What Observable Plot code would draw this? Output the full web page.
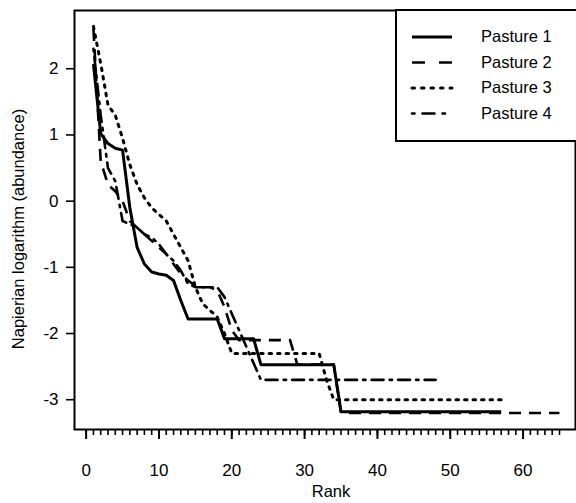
<!DOCTYPE html>
<html>
<head>
<meta charset="utf-8">
<script src="https://cdn.jsdelivr.net/npm/d3@7"></script>
<script src="https://cdn.jsdelivr.net/npm/@observablehq/plot@0.6"></script>
<style>
  html, body { margin: 0; padding: 0; background: #fff; }
  svg { font-family: "Liberation Sans", Arial, sans-serif; }
</style>
</head>
<body>
<div id="chart"></div>
<script>
// Series values (ln abundance) by rank 1..n
const seriesNames = ["Pasture 1", "Pasture 2", "Pasture 3", "Pasture 4"];
const pasture1 = [2.07, 1.02, 0.87, 0.80, 0.77, -0.10, -0.70, -0.95, -1.07, -1.10, -1.12, -1.20, -1.50, -1.78,
  -1.78, -1.78, -1.78, -1.78, -2.08, -2.08, -2.08, -2.08, -2.08,
  -2.47, -2.47, -2.47, -2.47, -2.47, -2.47, -2.47, -2.47, -2.47, -2.47, -2.47,
  -3.18, -3.18, -3.18, -3.18, -3.18, -3.18, -3.18, -3.18, -3.18, -3.18, -3.18, -3.18, -3.18, -3.18, -3.18, -3.18,
  -3.18, -3.18, -3.18, -3.18, -3.18, -3.18, -3.18];
const pasture2 = [2.60, 0.60, 0.25, 0.15, 0.00, -0.30, -0.40, -0.50, -0.60, -0.70, -0.80, -0.95, -1.10, -1.20,
  -1.28, -1.30, -1.30, -1.35, -1.60, -1.95, -2.10, -2.10, -2.10, -2.10, -2.10, -2.10, -2.10, -2.10,
  -2.47, -2.47, -2.47, -2.47, -2.47, -2.47,
  -3.20, -3.20, -3.20, -3.20, -3.20, -3.20, -3.20, -3.20, -3.20, -3.20, -3.20, -3.20, -3.20, -3.20, -3.20, -3.20,
  -3.20, -3.20, -3.20, -3.20, -3.20, -3.20, -3.20, -3.20, -3.20, -3.20, -3.20, -3.20, -3.20, -3.20, -3.20];
const pasture3 = [2.64, 2.08, 1.45, 1.30, 0.95, 0.55, 0.25, 0.05, -0.10, -0.20, -0.30, -0.50, -0.70, -0.90,
  -1.30, -1.55, -1.65, -1.75, -2.00, -2.30, -2.30, -2.30, -2.30, -2.30, -2.30, -2.30, -2.30, -2.30, -2.30,
  -2.30, -2.30, -2.30, -2.70, -3.00, -3.00, -3.00, -3.00, -3.00, -3.00, -3.00, -3.00, -3.00, -3.00, -3.00,
  -3.00, -3.00, -3.00, -3.00, -3.00, -3.00, -3.00, -3.00, -3.00, -3.00, -3.00, -3.00, -3.00];
const pasture4 = [2.30, 1.30, 0.50, 0.30, -0.30, -0.35, -0.40, -0.50, -0.55, -0.65, -0.80, -0.90, -1.05, -1.25,
  -1.30, -1.30, -1.30, -1.30, -1.45, -1.70, -1.95, -2.20, -2.45, -2.70, -2.70, -2.70, -2.70, -2.70, -2.70,
  -2.70, -2.70, -2.70, -2.70, -2.70, -2.70, -2.70, -2.70, -2.70, -2.70, -2.70, -2.70, -2.70, -2.70, -2.70,
  -2.70, -2.70, -2.70, -2.70];
const xMajorTicks = [0, 10, 20, 30, 40, 50, 60];
const xMinorTicks = d3.range(0, 66);
const yTicks = [-3, -2, -1, 0, 1, 2];
const xLabel = "Rank";
const yLabel = "Napierian logarithm (abundance)";

const allSeries = [pasture1, pasture2, pasture3, pasture4];
const table = allSeries.map(vals => vals.map((v, i) => ({rank: i + 1, value: v})));
const dashes = [null, "12,8", "2.5,6", "2.5,6,12,6"];
const widths = [3, 2.6, 3, 2.6];

const W = 576, H = 503;
const ml = 74, mr = 1, mt = 10, mb = 74;

const lineMarks = table.map((d, k) => Plot.line(d, {
  x: "rank", y: "value", stroke: "black", strokeWidth: widths[k],
  strokeDasharray: dashes[k], strokeLinecap: k === 2 || k === 3 ? "round" : "butt", strokeLinejoin: "round"
}));

const chart = Plot.plot({
  width: W, height: H,
  marginLeft: ml, marginRight: mr, marginTop: mt, marginBottom: mb,
  style: {fontFamily: "Liberation Sans, Arial, sans-serif", background: "white", overflow: "visible"},
  x: {domain: [-1.6, 67.2], label: null},
  y: {domain: [-3.45, 2.88], label: null},
  marks: [
    Plot.axisX({ticks: xMinorTicks, tickSize: 6, tickFormat: () => "", strokeWidth: 1.6}),
    Plot.axisX({ticks: xMajorTicks, tickSize: 10, tickPadding: 24, tickFormat: d => String(d), fontSize: 17, strokeWidth: 2, label: null}),
    Plot.axisY({ticks: yTicks, tickSize: 8, tickPadding: 8, tickFormat: d => String(d), fontSize: 17, strokeWidth: 1.6, label: null}),
    ...lineMarks,
    Plot.frame({stroke: "black", strokeWidth: 2})
  ]
});

document.getElementById("chart").appendChild(chart);

const svg = d3.select(chart);
svg.selectAll('g[aria-label$="tick label"]').attr("font-size", 17).selectAll("text").attr("font-size", 17);

// Axis titles and legend
svg.append("text").attr("x", 331).attr("y", 497)
  .attr("text-anchor", "middle").attr("font-size", 16.5).attr("fill", "black").text(xLabel);
svg.append("text").attr("transform", `translate(24,229) rotate(-90)`)
  .attr("text-anchor", "middle").attr("font-size", 16.5).attr("fill", "black").text(yLabel);

const lg = svg.append("g");
lg.append("rect").attr("x", 396).attr("y", 10).attr("width", 181).attr("height", 131)
  .attr("fill", "white").attr("stroke", "black").attr("stroke-width", 2);
seriesNames.forEach((name, k) => {
  const yy = 37 + k * 25.5;
  lg.append("line").attr("x1", 412).attr("x2", 452).attr("y1", yy).attr("y2", yy)
    .attr("stroke", "black").attr("stroke-width", widths[k])
    .attr("stroke-dasharray", k === 1 ? "13,14" : k === 2 ? "2.5,7" : k === 3 ? "2.5,8,12,8" : null)
    .attr("stroke-linecap", k >= 2 ? "round" : "butt");
  lg.append("text").attr("x", 481).attr("y", yy + 5).attr("text-anchor", "start")
    .attr("font-size", 16.5).attr("fill", "black").text(name);
});
</script>
</body>
</html>
